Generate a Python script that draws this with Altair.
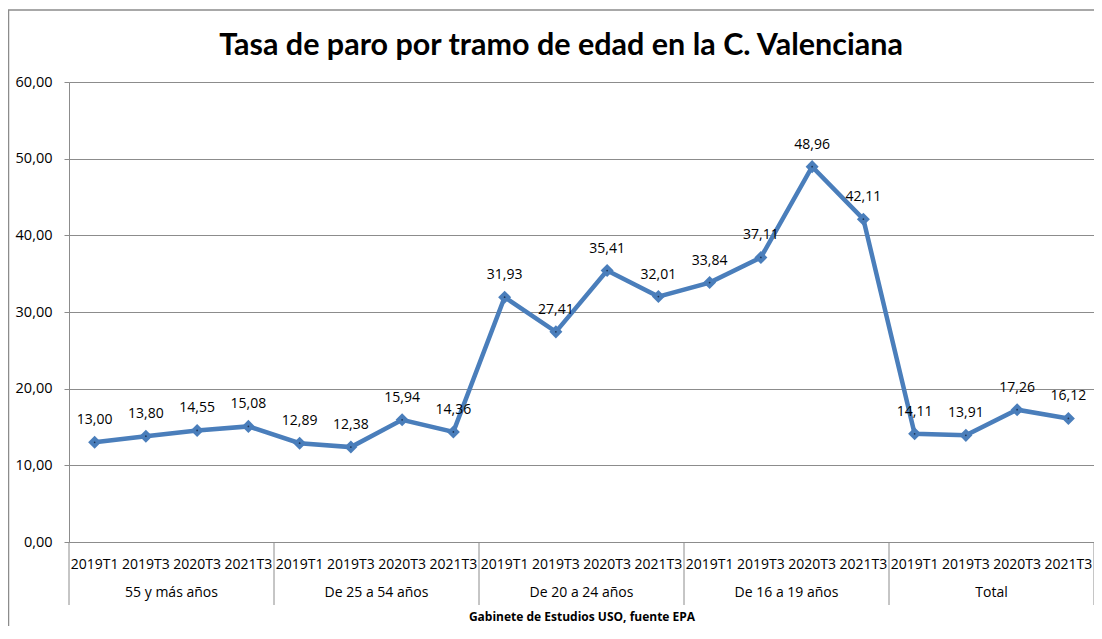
import altair as alt
import pandas as pd

groups = ["55 y más años", "De 25 a 54 años", "De 20 a 24 años", "De 16 a 19 años", "Total"]
quarters = ["2019T1", "2019T3", "2020T3", "2021T3"]
vals_55 = [13.00, 13.80, 14.55, 15.08]
vals_25_54 = [12.89, 12.38, 15.94, 14.36]
vals_20_24 = [31.93, 27.41, 35.41, 32.01]
vals_16_19 = [33.84, 37.11, 48.96, 42.11]
vals_total = [14.11, 13.91, 17.26, 16.12]
series = [vals_55, vals_25_54, vals_20_24, vals_16_19, vals_total]

title_text = "Tasa de paro por tramo de edad en la C. Valenciana"
x_title = "Gabinete de Estudios USO, fuente EPA"

rows = []
for g, (grp, vals) in enumerate(zip(groups, series)):
    for q, (qt, v) in enumerate(zip(quarters, vals)):
        i = g * len(quarters) + q
        rows.append({"group": grp, "quarter": qt, "pos": i + 0.5, "value": v,
                     "label": f"{v:.2f}".replace(".", ",")})
df = pd.DataFrame(rows)
n = len(df)
gdf = pd.DataFrame({"group": groups,
                    "center": [g * len(quarters) + len(quarters) / 2 for g in range(len(groups))]})
bdf = pd.DataFrame({"b": [g * len(quarters) for g in range(len(groups) + 1)]})

W, H = 1025, 460
BLUE = "#4A7EBB"
GRID = "#8c8c8c"
FONT = "Open Sans"

xscale = alt.Scale(domain=[0, n], nice=False, zero=False)
yscale = alt.Scale(domain=[0, 60], nice=False)

base = alt.Chart(df)

line = base.mark_line(color=BLUE, strokeWidth=4.5).encode(
    x=alt.X("pos:Q", scale=xscale,
            axis=alt.Axis(labels=False, ticks=False, grid=False, domain=True,
                          domainColor=GRID, title=x_title, titleFont=FONT,
                          titleFontSize=12, titleFontWeight="bold",
                          titleColor="black", titlePadding=69)),
    y=alt.Y("value:Q", scale=yscale,
            axis=alt.Axis(values=[0, 10, 20, 30, 40, 50, 60], title=None,
                          labelExpr="replace(format(datum.value, '.2f'), '.', ',')",
                          labelFont=FONT, labelFontSize=14.5, labelColor="black",
                          labelPadding=12, tickSize=5, tickColor=GRID,
                          domainColor=GRID, gridColor=GRID, gridWidth=1)),
)
points = base.mark_point(shape="diamond", filled=True, size=170, color=BLUE, opacity=1).encode(
    x="pos:Q", y="value:Q")
dots = base.mark_point(shape="circle", filled=True, size=3, color="#1d3557", opacity=1).encode(
    x="pos:Q", y="value:Q")
labels = base.mark_text(font=FONT, fontSize=14, color="black", baseline="alphabetic", dy=-18).encode(
    x="pos:Q", y="value:Q", text="label:N")
qlabels = base.mark_text(font=FONT, fontSize=14, color="black", baseline="middle").encode(
    x="pos:Q", y=alt.value(H + 23), text="quarter:N")
glabels = alt.Chart(gdf).mark_text(font=FONT, fontSize=14, color="black", baseline="middle").encode(
    x=alt.X("center:Q", scale=xscale), y=alt.value(H + 51), text="group:N")
seps = alt.Chart(bdf).mark_rule(color=GRID, strokeWidth=1).encode(
    x=alt.X("b:Q", scale=xscale), y=alt.value(H), y2=alt.value(H + 63))
tdf = pd.DataFrame({"t": [title_text]})
title = alt.Chart(tdf).mark_text(font="Lato", fontSize=30.5, fontWeight="bold",
                                 color="black", baseline="alphabetic", align="center").encode(
    x=alt.value(492), y=alt.value(-27), text="t:N")
border = alt.Chart(tdf).mark_rect(fill="transparent", stroke=GRID, strokeWidth=1.5).encode(
    x=alt.value(-60.5), x2=alt.value(1100), y=alt.value(-72), y2=alt.value(640))

chart = alt.layer(border, seps, line, points, dots, labels, qlabels, glabels, title).properties(
    width=W, height=H,
    autosize=alt.AutoSizeParams(type="none"),
    padding={"left": 61, "top": 74, "right": 0, "bottom": 84},
).configure_view(stroke="transparent").configure(background="white")

chart.save("out.html", embed_options={"renderer": "svg", "actions": False})
